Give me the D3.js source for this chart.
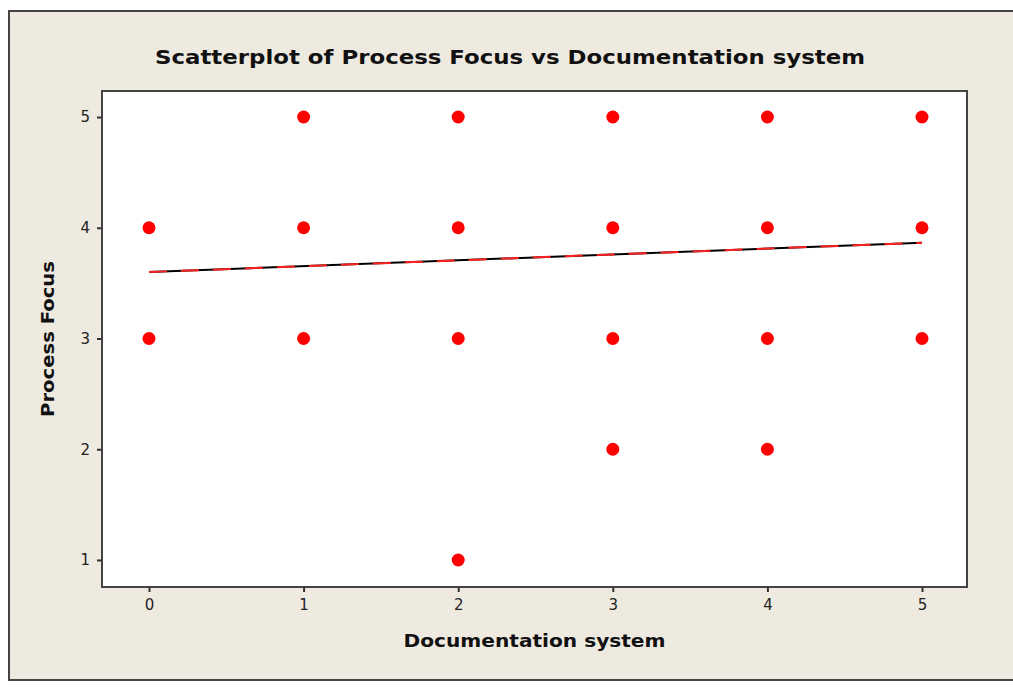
<!DOCTYPE html>
<html>
<head>
<meta charset="utf-8">
<script src="https://cdn.jsdelivr.net/npm/d3@7"></script>
<style>
  body { margin: 0; background: #ffffff; }
</style>
</head>
<body>
<div id="scatter"></div>
<script>
// Data
var docSystem = [0, 0, 1, 1, 1, 2, 2, 2, 2, 3, 3, 3, 3, 4, 4, 4, 4, 5, 5, 5];
var processFocus = [4, 3, 5, 4, 3, 5, 4, 3, 1, 5, 4, 3, 2, 5, 4, 3, 2, 5, 4, 3];
var fitX = [0, 5];
var fitY = [3.6, 3.865];
var xTicks = [0, 1, 2, 3, 4, 5];
var yTicks = [1, 2, 3, 4, 5];

var svgWidth = 1013;
var svgHeight = 688;

// plot box inside the frame
var plot = { left: 102, top: 91, right: 967, bottom: 587 };
var labelFont = "Tahoma, 'DejaVu Sans', sans-serif";

var svg = d3.select("#scatter")
  .append("svg")
  .attr("width", svgWidth)
  .attr("height", svgHeight);

// outer frame
svg.append("rect")
  .attr("x", 9)
  .attr("y", 11)
  .attr("width", 1010)
  .attr("height", 669)
  .attr("fill", "#eeeae0")
  .attr("stroke", "#444")
  .attr("stroke-width", 2);

// plot background
svg.append("rect")
  .attr("x", plot.left)
  .attr("y", plot.top)
  .attr("width", plot.right - plot.left)
  .attr("height", plot.bottom - plot.top)
  .attr("fill", "#fff")
  .attr("stroke", "#444")
  .attr("stroke-width", 2);

// scales
var xScale = d3.scaleLinear()
  .domain([-0.304, 5.291])
  .range([plot.left, plot.right]);

var yScale = d3.scaleLinear()
  .domain([0.756, 5.235])
  .range([plot.bottom, plot.top]);

// axes
var bottomAxis = d3.axisBottom(xScale).tickValues(xTicks).tickFormat(d3.format("d"))
  .tickSize(5).tickSizeOuter(0).tickPadding(7);
var leftAxis = d3.axisLeft(yScale).tickValues(yTicks).tickFormat(d3.format("d"))
  .tickSize(5).tickSizeOuter(0).tickPadding(7);

var xg = svg.append("g")
  .attr("transform", `translate(0, ${plot.bottom})`)
  .call(bottomAxis);
var yg = svg.append("g")
  .attr("transform", `translate(${plot.left}, 0)`)
  .call(leftAxis);

[xg, yg].forEach(function (g) {
  g.select(".domain").remove();
  g.attr("font-family", labelFont).attr("font-size", 15);
  g.selectAll(".tick line").attr("stroke", "#333").attr("stroke-width", 2);
  g.selectAll(".tick text").attr("fill", "#222");
});

// fitted line: black solid under red dashes
var fitData = fitX.map(function (d, i) { return [d, fitY[i]]; });
var line = d3.line()
  .x(d => xScale(d[0]))
  .y(d => yScale(d[1]));

svg.append("path")
  .datum(fitData)
  .attr("d", line)
  .attr("fill", "none")
  .attr("stroke", "#000")
  .attr("stroke-width", 2);

svg.append("path")
  .datum(fitData)
  .attr("d", line)
  .attr("fill", "none")
  .attr("stroke", "#ff2020")
  .attr("stroke-width", 2)
  .attr("stroke-dasharray", "18,14");

// points
svg.selectAll("circle.pt")
  .data(docSystem)
  .enter()
  .append("circle")
  .attr("class", "pt")
  .attr("cx", d => xScale(d))
  .attr("cy", (d, i) => yScale(processFocus[i]))
  .attr("r", 6.5)
  .attr("fill", "#ff0000");

// title
svg.append("text")
  .attr("x", 510)
  .attr("y", 64)
  .attr("text-anchor", "middle")
  .attr("font-family", labelFont)
  .attr("font-weight", "bold")
  .attr("font-size", 20)
  .attr("fill", "#111")
  .attr("textLength", 710)
  .attr("lengthAdjust", "spacingAndGlyphs")
  .text("Scatterplot of Process Focus vs Documentation system");

// axis labels
svg.append("text")
  .attr("x", (plot.left + plot.right) / 2)
  .attr("y", 647)
  .attr("text-anchor", "middle")
  .attr("font-family", labelFont)
  .attr("font-weight", "bold")
  .attr("font-size", 17)
  .attr("fill", "#111")
  .attr("textLength", 262)
  .attr("lengthAdjust", "spacingAndGlyphs")
  .text("Documentation system");

svg.append("text")
  .attr("transform", "translate(54, 339) rotate(-90)")
  .attr("text-anchor", "middle")
  .attr("font-family", labelFont)
  .attr("font-weight", "bold")
  .attr("font-size", 17)
  .attr("fill", "#111")
  .attr("textLength", 156)
  .attr("lengthAdjust", "spacingAndGlyphs")
  .text("Process Focus");
</script>
</body>
</html>
